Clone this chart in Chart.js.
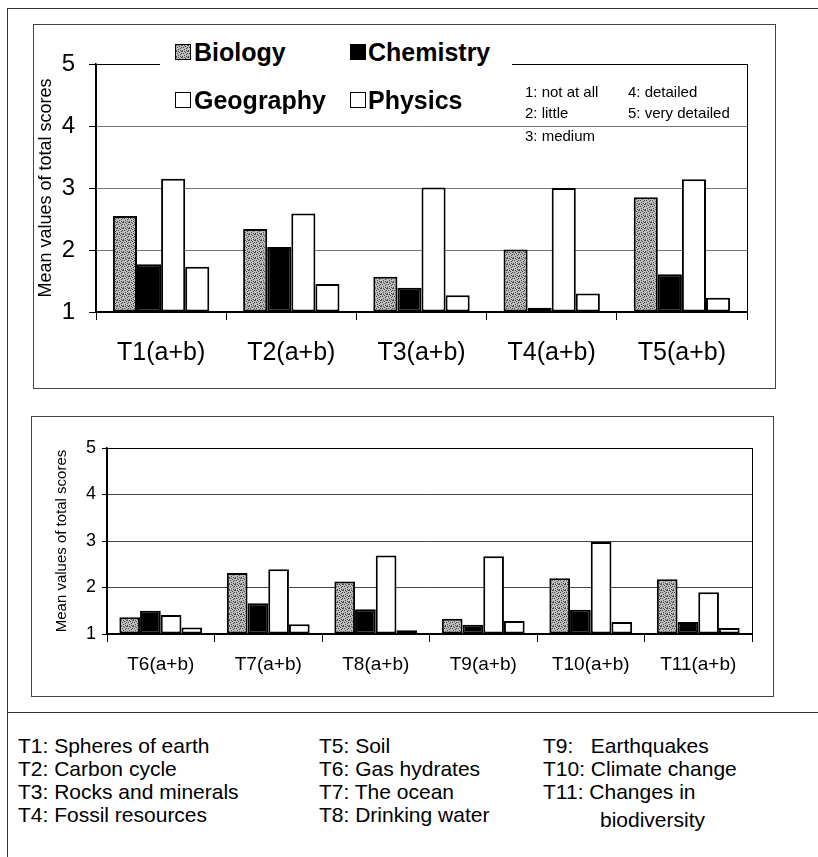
<!DOCTYPE html>
<html>
<head>
<meta charset="utf-8">
<script src="https://cdn.jsdelivr.net/npm/chart.js@4.4.0/dist/chart.umd.min.js"></script>
<style>
body { margin:0; background:#fff; font-family:"Liberation Sans", Arial, sans-serif; color:#000; }
#page { position:relative; width:818px; height:857px; overflow:hidden; }
.hl { position:absolute; height:1px; background:#333; }
.vl { position:absolute; width:1px; background:#333; }
.box { position:absolute; border:1px solid #444; box-sizing:border-box; }
canvas { position:absolute; }
#legbg { position:absolute; left:160px; top:36px; width:352px; height:84px; background:#fff; }
.sw { position:absolute; width:16px; height:16px; box-sizing:border-box; border:1.5px solid #000; background:#fff; }
.lt { position:absolute; font-weight:bold; font-size:25px; line-height:30px; white-space:nowrap; }
.sc { position:absolute; font-size:15px; line-height:18px; white-space:nowrap; }
.fn { position:absolute; font-size:21px; line-height:23px; white-space:pre; }
</style>
</head>
<body>
<div id="page">
  <div class="hl" style="left:7px; top:8px; width:811px;"></div>
  <div class="vl" style="left:7px; top:8px; height:849px;"></div>
  <div class="hl" style="left:7px; top:712px; width:811px;"></div>

  <div class="box" style="left:33px; top:24px; width:743px; height:365px;"></div>
  <div class="box" style="left:31px; top:416px; width:743px; height:281px;"></div>

  <canvas id="topChart" width="742" height="364" style="left:33px; top:24px;"></canvas>
  <canvas id="bottomChart" width="742" height="280" style="left:31px; top:416px;"></canvas>

  <!-- legend of the top chart, sits over the plot frame -->
  <div id="legbg"></div>
  <div class="sw" id="swBio" style="left:175px; top:44px;"></div>
  <div class="lt" style="left:194px; top:37px;">Biology</div>
  <div class="sw" style="left:350px; top:44px; background:#000;"></div>
  <div class="lt" style="left:368px; top:37px;">Chemistry</div>
  <div class="sw" style="left:175px; top:92px;"></div>
  <div class="lt" style="left:194px; top:85px;">Geography</div>
  <div class="sw" style="left:350px; top:92px;"></div>
  <div class="lt" style="left:368px; top:85px;">Physics</div>

  <div class="sc" style="left:525px; top:83px;">1: not at all</div>
  <div class="sc" style="left:525px; top:104px;">2: little</div>
  <div class="sc" style="left:525px; top:127px;">3: medium</div>
  <div class="sc" style="left:628px; top:83px;">4: detailed</div>
  <div class="sc" style="left:628px; top:104px;">5: very detailed</div>

  <div class="fn" style="left:18px; top:734px;">T1: Spheres of earth
T2: Carbon cycle
T3: Rocks and minerals
T4: Fossil resources</div>
  <div class="fn" style="left:319px; top:734px;">T5: Soil
T6: Gas hydrates
T7: The ocean
T8: Drinking water</div>
  <div class="fn" style="left:543px; top:734px;">T9:   Earthquakes
T10: Climate change
T11: Changes in</div>
  <div class="fn" style="left:600px; top:808px;">biodiversity</div>
</div>

<script>
// values (mean score, scale 1..5)
var topTopics = ['T1(a+b)', 'T2(a+b)', 'T3(a+b)', 'T4(a+b)', 'T5(a+b)'];
var topBiology = [2.55, 2.34, 1.57, 2.01, 2.85];
var topChemistry = [1.77, 2.05, 1.39, 1.07, 1.61];
var topGeography = [3.15, 2.59, 3.01, 3.00, 3.14];
var topPhysics = [1.73, 1.45, 1.27, 1.30, 1.23];

var bottomTopics = ['T6(a+b)', 'T7(a+b)', 'T8(a+b)', 'T9(a+b)', 'T10(a+b)', 'T11(a+b)'];
var bottomBiology = [1.36, 2.31, 2.13, 1.33, 2.20, 2.18];
var bottomChemistry = [1.50, 1.66, 1.53, 1.20, 1.52, 1.26];
var bottomGeography = [1.41, 2.39, 2.69, 2.67, 2.98, 1.90];
var bottomPhysics = [1.14, 1.21, 1.08, 1.28, 1.26, 1.13];

var subjects = ['Biology', 'Chemistry', 'Geography', 'Physics'];
var yMin = 1, yMax = 5;

// stippled grey fill used for Biology
function makeStipple(){
    var c = document.createElement('canvas');
    c.width = 6; c.height = 6;
    var g = c.getContext('2d');
    g.fillStyle = '#bcbcbc';
    g.fillRect(0, 0, 6, 6);
    var dots = [[0,0],[3,1],[1,2],[5,2],[2,4],[4,3],[0,5],[4,5],[2,0],[5,0]];
    g.fillStyle = '#4a4a4a';
    for (var i = 0; i < dots.length; i++) {
        g.fillRect(dots[i][0], dots[i][1], 1, 1);
    }
    return c;
}
var stipple = makeStipple();
document.getElementById('swBio').style.background = 'url(' + stipple.toDataURL() + ')';

var frame = {
    id: 'frame',
    afterDraw: function(chart){
        var a = chart.chartArea;
        var ctx = chart.ctx;
        ctx.save();
        ctx.strokeStyle = '#000';
        ctx.lineWidth = 1;
        ctx.strokeRect(Math.round(a.left) + 0.5, Math.round(a.top) + 0.5, Math.round(a.right - a.left), Math.round(a.bottom - a.top));
        ctx.restore();
    }
};

function makeChart(id, labels, bio, chem, geo, phys, s){
    var ctx = document.getElementById(id).getContext('2d');
    var fills = [ctx.createPattern(stipple, 'repeat'), '#000', '#fff', '#fff'];
    var series = [bio, chem, geo, phys];
    var datasets = [];
    for (var i = 0; i < series.length; i++) {
        datasets.push({
            label: subjects[i],
            data: series[i],
            base: yMin,
            backgroundColor: fills[i],
            borderColor: '#000',
            borderWidth: 2,
            borderSkipped: false,
            categoryPercentage: s.catPct,
            barPercentage: 1.0
        });
    }
    return new Chart(ctx, {
        type: 'bar',
        data: { labels: labels, datasets: datasets },
        plugins: [frame],
        options: {
            responsive: false,
            animation: false,
            events: [],
            layout: { padding: { top: s.padTop, right: s.padRight, left: 0, bottom: 0 } },
            plugins: { legend: { display: false }, tooltip: { enabled: false } },
            scales: {
                x: {
                    afterFit: function(scale){ scale.height = s.xHeight; },
                    grid: { display: true, offset: true, drawOnChartArea: false, drawTicks: true, tickLength: 8, tickColor: '#000' },
                    border: { color: '#000', width: 1.5 },
                    ticks: { color: '#000', padding: s.xPad, font: { family: 'Liberation Sans', size: s.xFont } }
                },
                y: {
                    min: yMin,
                    max: yMax,
                    afterFit: function(scale){ scale.width = s.yWidth; },
                    grid: { color: s.gridColor, lineWidth: 1, tickLength: s.yTick, tickColor: '#000' },
                    border: { color: '#000', width: 1.5 },
                    ticks: { stepSize: 1, color: '#000', padding: s.yPad, font: { family: 'Liberation Sans', size: s.yFont } },
                    title: {
                        display: true,
                        text: 'Mean values of total scores',
                        color: '#000',
                        padding: { top: s.titlePad, bottom: 0 },
                        font: { family: 'Liberation Sans', size: s.titleFont }
                    }
                }
            }
        }
    });
}

makeChart('topChart', topTopics, topBiology, topChemistry, topGeography, topPhysics, {
    catPct: 0.74, padTop: 40, padRight: 28, xHeight: 76, xPad: 18, xFont: 25,
    yWidth: 63, yTick: 7, yPad: 14, yFont: 24, titlePad: 2, titleFont: 18, gridColor: '#777'
});
makeChart('bottomChart', bottomTopics, bottomBiology, bottomChemistry, bottomGeography, bottomPhysics, {
    catPct: 0.77, padTop: 32, padRight: 21, xHeight: 62, xPad: 11, xFont: 19,
    yWidth: 76, yTick: 5, yPad: 6, yFont: 18, titlePad: 22, titleFont: 15, gridColor: '#444'
});
</script>
</body>
</html>
